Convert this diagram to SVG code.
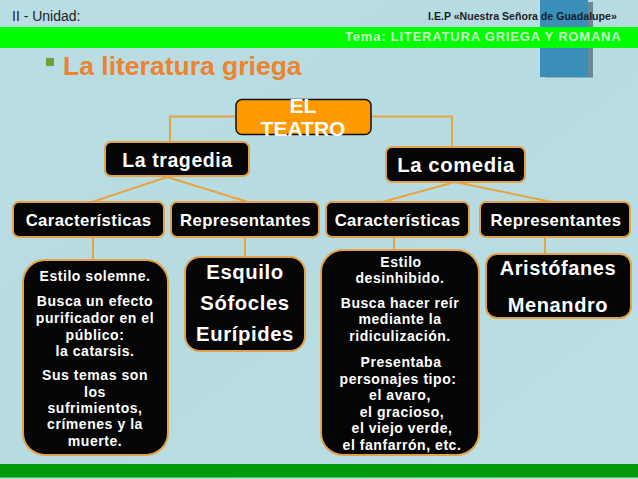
<svg xmlns="http://www.w3.org/2000/svg" width="638" height="479" viewBox="0 0 638 479">
<style>
text{font-family:"Liberation Sans",Arial,sans-serif;text-anchor:middle}
.b{fill:#050505;stroke:#e3a24a;stroke-width:2}
.t{fill:#fff;font-weight:700}
.h{font-size:16.700px;letter-spacing:.4px}
.s{font-size:14px;letter-spacing:.55px}
.l{font-size:20.300px;letter-spacing:.6px}
.c{fill:none;stroke:#e5a445;stroke-width:2}
</style>
<defs>
<linearGradient id="bg" x1="0" y1="0" x2="1" y2="1"><stop offset="0" stop-color="#b8dde3"/><stop offset=".5" stop-color="#b6dce2"/><stop offset="1" stop-color="#bbdfe5"/></linearGradient>
</defs>
<rect width="638" height="479" fill="url(#bg)"/>
<rect x="545" y="2" width="48" height="75.500" fill="#6f8793"/>
<rect x="540" y="0" width="48" height="77" fill="#3a8fb8"/>
<rect y="27" width="638" height="21" fill="#00fd00"/>
<rect y="464" width="638" height="13.500" fill="#009a0c"/>
<text x="12" y="21" font-size="14" style="text-anchor:start" fill="#222">II - Unidad:</text>
<text x="428" y="19.500" font-size="10.600" font-weight="700" style="text-anchor:start" fill="#1d1d2b">I.E.P «Nuestra Señora de Guadalupe»</text>
<text x="345" y="41" font-size="13" font-weight="700" letter-spacing=".8" style="text-anchor:start" fill="#c9f5c9">Tema: LITERATURA GRIEGA Y ROMANA</text>
<rect x="46" y="58" width="8" height="8" fill="#70a033"/>
<text x="63" y="75" font-size="26.500" font-weight="700" style="text-anchor:start" fill="#ed8330">La literatura griega</text>
<g id="connectors">
<path class="c" d="M236 116.500H170V142M371 116.500H452V147M167 177L92 202M167 177L248 202M455 182L382 202M455 182L552 202M93 237V260M245 237V257M394 237V252M545 237V254"/>
</g>
<g id="teatro"><rect x="236" y="99.500" width="135" height="35" rx="6" fill="#ff9900" stroke="#111" stroke-width="1.500"/><text class="t" x="303" y="113" font-size="21">EL</text><text class="t" x="303" y="135.500" font-size="21">TEATRO</text></g>
<g id="tragedia"><rect class="b" x="105" y="142" width="144" height="34" rx="6"/><text class="t" x="177.500" y="167" font-size="19.500" letter-spacing=".6">La tragedia</text></g>
<g id="comedia"><rect class="b" x="386" y="147" width="139" height="35" rx="6"/><text class="t l" x="456" y="172">La comedia</text></g>
<g id="caract1"><rect class="b" x="13" y="202" width="151" height="35" rx="6"/><text class="t h" x="88.500" y="226">Características</text></g>
<g id="repre1"><rect class="b" x="171" y="202" width="148" height="35" rx="6"/><text class="t h" x="245.500" y="226">Representantes</text></g>
<g id="caract2"><rect class="b" x="326" y="202" width="143" height="35" rx="6"/><text class="t h" x="397.500" y="226">Características</text></g>
<g id="repre2"><rect class="b" x="480" y="202" width="150" height="35" rx="6"/><text class="t h" x="556" y="226">Representantes</text></g>
<g id="estilo1"><rect class="b" x="23" y="260" width="145" height="195" rx="22"/>
<g class="t s"><text x="95" y="281">Estilo solemne.</text><text x="95" y="306">Busca un efecto</text><text x="95" y="323">purificador en el</text><text x="95" y="340">público:</text><text x="95" y="356">la catarsis.</text><text x="95" y="380">Sus temas son</text><text x="95" y="397">los</text><text x="95" y="413">sufrimientos,</text><text x="95" y="429">crímenes y la</text><text x="95" y="446">muerte.</text></g></g>
<g id="griegos"><rect class="b" x="185" y="257" width="120" height="94" rx="15"/>
<g class="t l"><text x="245" y="279">Esquilo</text><text x="245" y="310">Sófocles</text><text x="245" y="341">Eurípides</text></g></g>
<g id="estilo2"><rect class="b" x="321" y="250" width="158" height="205" rx="22"/>
<g class="t s"><text x="401" y="267">Estilo</text><text x="400" y="283">desinhibido.</text><text x="400" y="308">Busca hacer reír</text><text x="400" y="324">mediante la</text><text x="400" y="341">ridiculización.</text><text x="401" y="367">Presentaba</text><text x="398" y="384">personajes tipo:</text><text x="400" y="400">el avaro,</text><text x="402" y="417">el gracioso,</text><text x="402" y="433">el viejo verde,</text><text x="402" y="450">el fanfarrón, etc.</text></g></g>
<g id="comicos"><rect class="b" x="486" y="254" width="145" height="64" rx="11"/>
<g class="t" font-size="20" letter-spacing=".6"><text x="558" y="275">Aristófanes</text><text x="558" y="312">Menandro</text></g></g>
</svg>
